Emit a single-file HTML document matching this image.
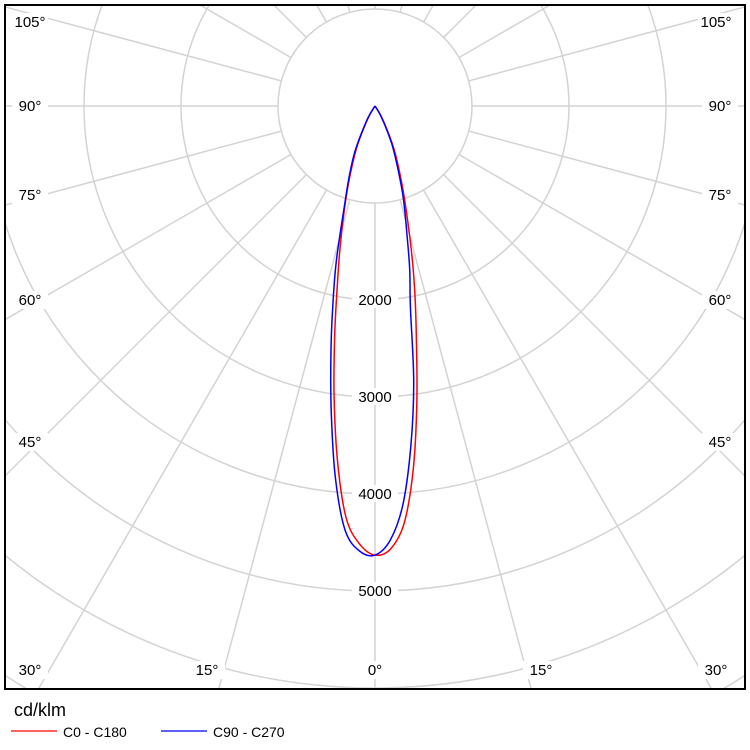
<!DOCTYPE html>
<html><head><meta charset="utf-8"><style>
html,body{margin:0;padding:0;background:#fff;width:750px;height:750px;overflow:hidden}
svg{display:block;font-family:"Liberation Sans",sans-serif}
</style></head><body>
<svg id="chart" width="750" height="750">
<defs><clipPath id="clip"><rect x="5" y="5" width="740" height="684"/></clipPath></defs>
<g id="grid" clip-path="url(#clip)"></g>
<g id="curves" clip-path="url(#clip)"></g>
<g id="labels"></g>
<rect x="5" y="5" width="740" height="684" fill="none" stroke="#000" stroke-width="2"/>
<text x="14" y="716" font-size="18">cd/klm</text>
<line x1="11" y1="731" x2="57" y2="731" stroke="#f00" stroke-width="1.2"/>
<text x="63" y="737" font-size="14">C0 - C180</text>
<line x1="161" y1="731" x2="207" y2="731" stroke="#00f" stroke-width="1.2"/>
<text x="213" y="737" font-size="14">C90 - C270</text>
</svg>
<script>
const angles=[0,2,4,6,8,10,12,14,17,20,24,30,36];
const c0Values=[4630,4570,4310,3770,3100,2460,1980,1560,1080,760,470,150,0];
const c180Values=[4630,4520,4260,3690,3030,2390,1860,1480,1050,740,450,140,0];
const c90Values=[4630,4480,4120,3530,2870,2100,1720,1360,1000,690,420,130,0];
const c270Values=[4630,4590,4390,3880,3230,2620,2090,1650,1080,780,500,160,0];
const ringValues=[1000,2000,3000,4000,5000,6000,7000];
const ringLabels=["2000","3000","4000","5000"];
const NS="http://www.w3.org/2000/svg";
const cx=375,cy=106,pxPer=0.097;
function rScale(v){return v*pxPer;}
function pt(deg,v){const a=deg*Math.PI/180;return [cx+rScale(v)*Math.sin(a),cy+rScale(v)*Math.cos(a)];}
function mk(tag,attrs,parent){const e=document.createElementNS(NS,tag);for(const k in attrs)e.setAttribute(k,attrs[k]);parent.appendChild(e);return e;}
const grid=document.getElementById('grid');
ringValues.forEach(v=>{
 const c=mk('circle',{cx:cx,cy:cy,r:rScale(v),fill:'none',stroke:'#d3d3d3','stroke-width':1.5},grid);
 
 
});
for(let d=0;d<360;d+=15){
 const p1=pt(d,1000),p2=pt(d,9000);
 const l=mk('line',{x1:p1[0],y1:p1[1],x2:p2[0],y2:p2[1],stroke:'#d3d3d3','stroke-width':1.5},grid);
 
 
}
const curves=document.getElementById('curves');
function smoothPath(pts){
 let d='M'+pts[0][0].toFixed(1)+','+pts[0][1].toFixed(1);
 for(let i=0;i<pts.length-1;i++){
  const p0=pts[i-1]||pts[i],p1=pts[i],p2=pts[i+1],p3=pts[i+2]||p2;
  const c1=[p1[0]+(p2[0]-p0[0])/6,p1[1]+(p2[1]-p0[1])/6];
  const c2=[p2[0]-(p3[0]-p1[0])/6,p2[1]-(p3[1]-p1[1])/6];
  d+='C'+c1[0].toFixed(1)+','+c1[1].toFixed(1)+' '+c2[0].toFixed(1)+','+c2[1].toFixed(1)+' '+p2[0].toFixed(1)+','+p2[1].toFixed(1);
 }
 return d;
}
function drawCurve(rightVals,leftVals,color,name){
 const pts=[];
 for(let i=angles.length-1;i>=0;i--)pts.push(pt(-angles[i],leftVals[i]));
 for(let i=1;i<angles.length;i++)pts.push(pt(angles[i],rightVals[i]));
 const p=mk('path',{d:smoothPath(pts),fill:'none',stroke:color,'stroke-width':1.5,'stroke-linejoin':'round'},curves);
 
 
}
drawCurve(c0Values,c180Values,'#f00','curve-c0-c180');
drawCurve(c90Values,c270Values,'#00f','curve-c90-c270');
const labels=document.getElementById('labels');
ringLabels.forEach(t=>{
 const v=+t;const y=cy+rScale(v);
 const r=mk('rect',{x:cx-23,y:y-9,width:46,height:17,fill:'#fff'},labels);
 
 
 const tx=mk('text',{x:cx,y:y+5,'font-size':15,'text-anchor':'middle'},labels);
 tx.textContent=t;
 
 
});
const angLabels=[["105°",30,27],["90°",30,111],["75°",30,200],["60°",30,305],["45°",30,447],["30°",30,675],["15°",207,675],["0°",375,675],["15°",541,675],["30°",716,675],["45°",720,447],["60°",720,305],["75°",720,200],["90°",720,111],["105°",716,27]];
angLabels.forEach((a,i)=>{
 const r=mk('rect',{x:a[1]-18,y:a[2]-14,width:36,height:18,fill:'#fff'},labels);
 
 
 const t=mk('text',{x:a[1],y:a[2],'font-size':15,'text-anchor':'middle'},labels);
 t.textContent=a[0];
 
 
});
</script>
</body></html>
